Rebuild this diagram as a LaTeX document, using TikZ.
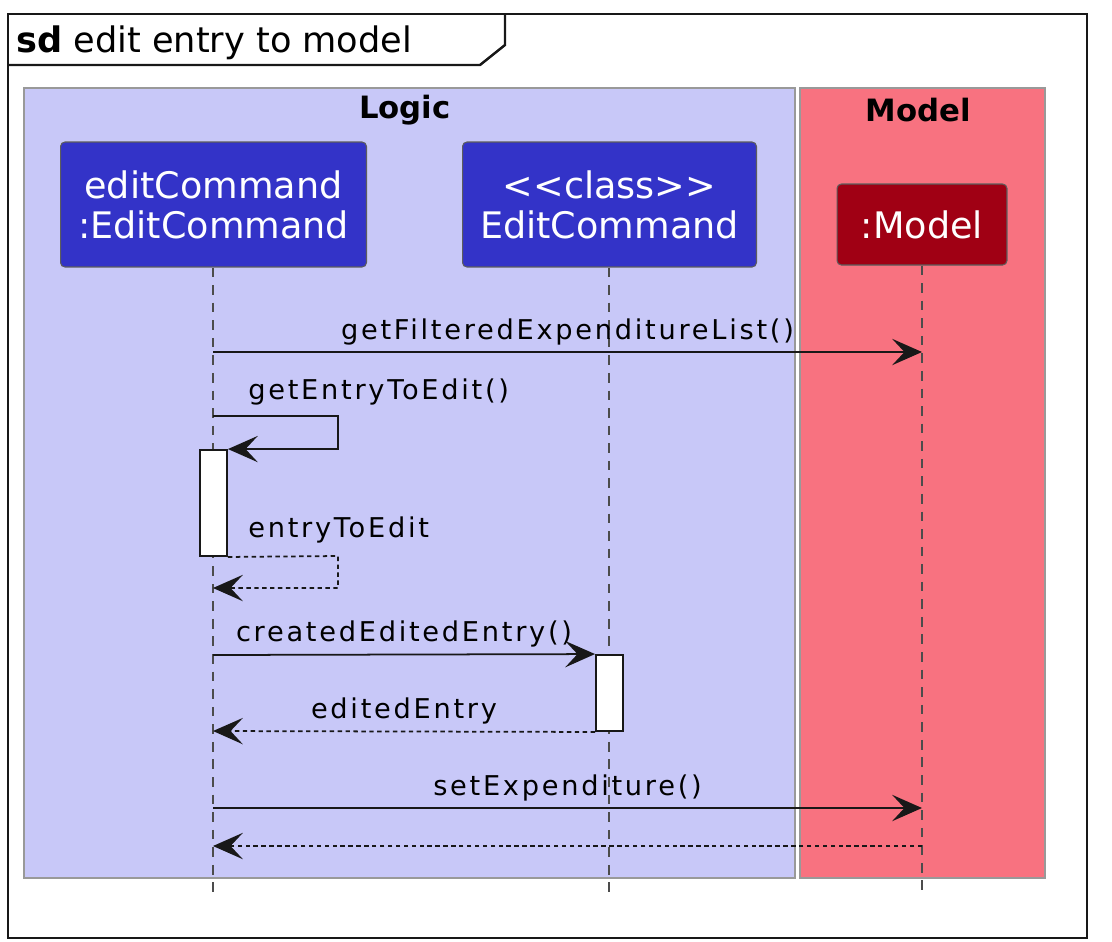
\documentclass[tikz,border=0pt]{standalone}
\usepackage{fontspec}
\setmainfont{DejaVu Sans}
\newfontfamily\msgfont[LetterSpace=10]{DejaVu Sans}
\usetikzlibrary{arrows.meta}
\definecolor{logicbg}{RGB}{200,200,248}
\definecolor{modelbg}{RGB}{248,114,128}
\definecolor{partblue}{RGB}{51,51,200}
\definecolor{partred}{RGB}{160,0,20}
\definecolor{lineclr}{RGB}{24,24,24}

\begin{document}
\begin{tikzpicture}[x=0.02cm,y=-0.02cm,
    part/.style={draw=lineclr!70,line width=0.6pt,rounded corners=2.5pt,text=white,align=center,inner sep=0pt,font=\fontsize{20.8}{22.7}\selectfont},
    grp/.style={draw=gray!80,line width=0.8pt},
    grplabel/.style={font=\fontsize{17.5}{20}\selectfont\bfseries,inner sep=0pt},
    msg/.style={line width=1pt,draw=lineclr,-{Stealth[length=17pt,width=15pt,inset=7pt]}},
    ret/.style={msg,dash pattern=on 2.5pt off 2pt},
    lbl/.style={font=\msgfont\fontsize{15.5}{18}\selectfont,inner sep=0pt},
    life/.style={draw=gray!60!black,line width=0.7pt,dash pattern=on 5.5pt off 4.5pt},
    act/.style={draw=lineclr,fill=white,line width=1.1pt,minimum width=0.54cm,inner sep=0pt}]
    \useasboundingbox (0,0) rectangle (1112,941);

    % frame and title tab
    \draw[line width=1.4pt,draw=lineclr] (8,14) rectangle (1087,938);
    \draw[line width=1.4pt,draw=lineclr] (8,65) -- (480,65) -- (505,45) -- (505,14);
    \node[anchor=base west,inner sep=0pt,font=\fontsize{20}{24}\selectfont] (title) at (16,52) {\textbf{sd} edit entry to model};

    % boxes
    \fill[logicbg] (24,88) rectangle (795,878);
    \draw[grp] (24,88) rectangle (795,878);
    \fill[modelbg] (800,88) rectangle (1045,878);
    \draw[grp] (800,88) rectangle (1045,878);
    \node[grplabel] (logic) at (405,110) {Logic};
    \node[grplabel] (model) at (918,110) {Model};

    % participants
    \node[part,fill=partblue,minimum width=6.12cm,minimum height=2.5cm] (ec) at (213.5,204.5) {editCommand\\:EditCommand};
    \node[part,fill=partblue,minimum width=5.88cm,minimum height=2.5cm] (cls) at (609.5,204.5) {<{}<class>{}>\\EditCommand};
    \node[part,fill=partred,minimum width=3.4cm,minimum height=1.62cm] (mdl) at (922,224.5) {:Model};

    % lifelines
    \coordinate (ecend) at (213,893);
    \coordinate (clsend) at (609,893);
    \coordinate (mdlend) at (922,893);
    \draw[life] (ec.south -| ecend) -- (ecend);
    \draw[life] (cls.south -| clsend) -- (clsend);
    \draw[life] (mdl.south -| mdlend) -- (mdlend);

    % activations
    \node[act,minimum height=2.12cm] (a1) at (213.5,503) {};
    \node[act,minimum height=1.52cm] (a2) at (609.5,693) {};

    % messages
    \coordinate (m1s) at (213,352);
    \coordinate (m1e) at (922,352);
    \draw[msg] (m1s) -- (m1e) node[lbl,midway,above=3.5pt] (l1) {getFilteredExpenditureList()};

    \coordinate (s1s) at (213,416);
    \draw[msg] (s1s) -- (338,416) |- (a1.north east);
    \node[lbl,anchor=west] (l2) at (248,392) {getEntryToEdit()};

    \coordinate (r1e) at (213,588);
    \draw[ret] (a1.south east) -- (338,556) |- (r1e);
    \node[lbl,anchor=west] (l3) at (248,530) {entryToEdit};

    \coordinate (m4s) at (213,655);
    \draw[msg] (m4s) -- (a2.north west) node[lbl,midway,above=3.5pt] (l4) {createdEditedEntry()};

    \coordinate (r2e) at (213,731);
    \draw[ret] (a2.south west) -- (r2e) node[lbl,midway,above=3.5pt] (l5) {editedEntry};

    \coordinate (m6s) at (213,808);
    \coordinate (m6e) at (922,808);
    \draw[msg] (m6s) -- (m6e) node[lbl,midway,above=3.5pt] (l6) {setExpenditure()};

    \coordinate (r3s) at (922,846);
    \coordinate (r3e) at (213,846);
    \draw[ret] (r3s) -- (r3e);
\end{tikzpicture}
\end{document}
